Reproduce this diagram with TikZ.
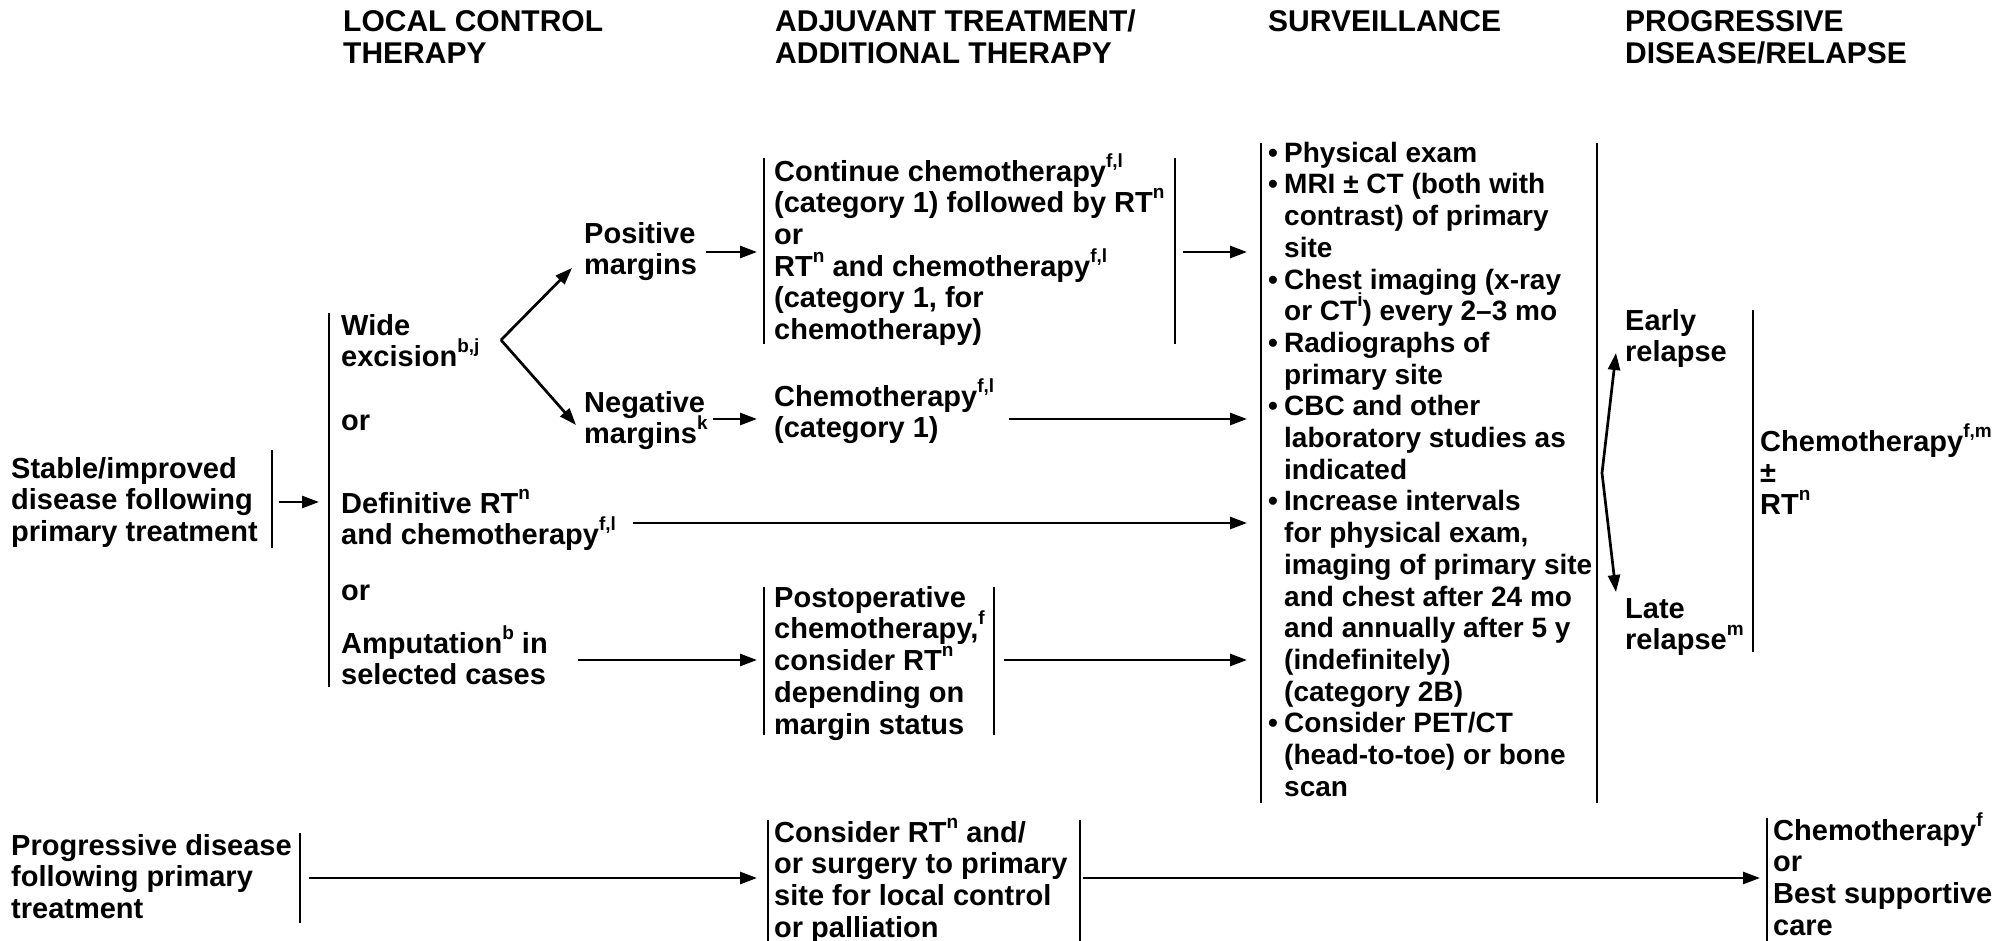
\documentclass[tikz,border=0pt]{standalone}
\usepackage{fontspec}
\setmainfont{Liberation Sans}
\usetikzlibrary{arrows.meta}
% superscript that does not change line height
\newcommand\supx[1]{\smash{\raisebox{14pt}{\fontsize{19}{19}\selectfont #1}}}
\newcommand\bodyfont{\bfseries\fontsize{29}{31.7}\selectfont}
\newcommand\survfont{\bfseries\fontsize{28}{31.7}\selectfont}
\newcommand\headfont{\bfseries\fontsize{30}{32}\selectfont}
\newcommand\blt{\makebox[16pt][l]{•}}
\newcommand\ind{\hspace*{16pt}}

\begin{document}
\begin{tikzpicture}[x=1pt,y=-1pt,
  txt/.style={anchor=north west, inner sep=0pt, align=left, font=\bodyfont, yshift=22.19pt},
  stxt/.style={txt, font=\survfont},
  head/.style={anchor=north west, inner sep=0pt, align=left, font=\headfont, yshift=22.4pt},
  bar/.style={line width=2.8pt},
  arr/.style={line width=2.7pt, -{Triangle[length=17pt,width=12pt]}}]
\useasboundingbox (0,0) rectangle (2011,941);

% column headings
\node[head] (h1) at (343,31)  {\strut LOCAL CONTROL\\THERAPY};
\node[head] (h2) at (775,31)  {\strut ADJUVANT TREATMENT/\\ADDITIONAL THERAPY};
\node[head] (h3) at (1268,31) {\strut SURVEILLANCE};
\node[head] (h4) at (1625,31) {\strut PROGRESSIVE\\DISEASE/RELAPSE};

% starting situations
\node[txt] (stable) at (11,478) {\strut Stable/improved\\disease following\\primary treatment};
\node[txt] (prog)   at (11,855) {\strut Progressive disease\\following primary\\treatment};

% local control options
\node[txt] (wide)  at (341,335) {\strut Wide\\excision\supx{b,j}};
\node[txt] (or1)   at (341,430) {\strut or};
\node[txt] (defin) at (341,513) {\strut Definitive RT\supx{n}\\and chemotherapy\supx{f,l}};
\node[txt] (or2)   at (341,600) {\strut or};
\node[txt] (amput) at (341,653) {\strut Amputation\supx{b} in\\selected cases};

% margins
\node[txt] (pos) at (584,243) {\strut Positive\\margins};
\node[txt] (neg) at (584,412) {\strut Negative\\margins\supx{k}};

% adjuvant treatment
\node[txt] (cont) at (774,181) {\strut Continue chemotherapy\supx{f,l}\\(category 1) followed by RT\supx{n}\\or\\RT\supx{n} and chemotherapy\supx{f,l}\\(category 1, for\\chemotherapy)};
\node[txt] (chemo) at (774,406) {\strut Chemotherapy\supx{f,l}\\(category 1)};
\node[txt] (postop) at (774,607) {\strut Postoperative\\chemotherapy,\supx{f}\\consider RT\supx{n}\\depending on\\margin status};
\node[txt] (consid) at (774,842) {\strut Consider RT\supx{n} and/\\or surgery to primary\\site for local control\\or palliation};

% surveillance
\node[stxt] (surv) at (1268,162) {\strut\blt Physical exam\\
\blt MRI ± CT (both with\\
\ind contrast) of primary\\
\ind site\\
\blt Chest imaging (x-ray\\
\ind or CT\supx{i}) every 2–3 mo\\
\blt Radiographs of\\
\ind primary site\\
\blt CBC and other\\
\ind laboratory studies as\\
\ind indicated\\
\blt Increase intervals\\
\ind for physical exam,\\
\ind imaging of primary site\\
\ind and chest after 24 mo\\
\ind and annually after 5 y\\
\ind (indefinitely)\\
\ind (category 2B)\\
\blt Consider PET/CT\\
\ind (head-to-toe) or bone\\
\ind scan};

% relapse
\node[txt] (early) at (1625,330) {\strut Early\\relapse};
\node[txt] (late)  at (1625,618) {\strut Late\\relapse\supx{m}};
\node[txt] (rchemo) at (1760,451) {\strut Chemotherapy\supx{f,m}\\±\\RT\supx{n}};
\node[txt] (final) at (1773,840) {\strut Chemotherapy\supx{f}\\or\\Best supportive\\care};

% bracket bars
\draw[bar] (272,450) -- (272,548);
\draw[bar] (329,313) -- (329,687);
\draw[bar] (764,158) -- (764,344);
\draw[bar] (1175,158) -- (1175,344);
\draw[bar] (764,587) -- (764,735);
\draw[bar] (994,587) -- (994,735);
\draw[bar] (1261,143) -- (1261,803);
\draw[bar] (1597,143) -- (1597,803);
\draw[bar] (1753,310) -- (1753,652);
\draw[bar] (300,833) -- (300,923);
\draw[bar] (768,820) -- (768,941);
\draw[bar] (1080,820) -- (1080,941);
\draw[bar] (1767,818) -- (1767,941);

% connector end points
\coordinate (a1s) at (279,502);  \coordinate (a1e) at (319,502);
\coordinate (br)  at (501,340);
\coordinate (bpe) at (572,268);  \coordinate (bne) at (576,425);
\coordinate (a3s) at (706,252);  \coordinate (a3e) at (757,252);
\coordinate (a4s) at (1183,252); \coordinate (a4e) at (1247,252);
\coordinate (a5s) at (713,419);  \coordinate (a5e) at (757,419);
\coordinate (a6s) at (1009,419); \coordinate (a6e) at (1247,419);
\coordinate (a7s) at (633,523);  \coordinate (a7e) at (1247,523);
\coordinate (a8s) at (578,660);  \coordinate (a8e) at (757,660);
\coordinate (a9s) at (1004,660); \coordinate (a9e) at (1247,660);
\coordinate (rb)  at (1602,473);
\coordinate (rue) at (1616,353); \coordinate (rde) at (1616,592);
\coordinate (b1s) at (309,878);  \coordinate (b1e) at (757,878);
\coordinate (b2s) at (1083,878); \coordinate (b2e) at (1760,878);

% connectors
\draw[arr] (a1s) -- (a1e);
\draw[arr] (br) -- (bpe);
\draw[arr] (br) -- (bne);
\draw[arr] (a3s) -- (a3e);
\draw[arr] (a4s) -- (a4e);
\draw[arr] (a5s) -- (a5e);
\draw[arr] (a6s) -- (a6e);
\draw[arr] (a7s) -- (a7e);
\draw[arr] (a8s) -- (a8e);
\draw[arr] (a9s) -- (a9e);
\draw[arr] (rb) -- (rue);
\draw[arr] (rb) -- (rde);
\draw[arr] (b1s) -- (b1e);
\draw[arr] (b2s) -- (b2e);
\end{tikzpicture}
\end{document}
